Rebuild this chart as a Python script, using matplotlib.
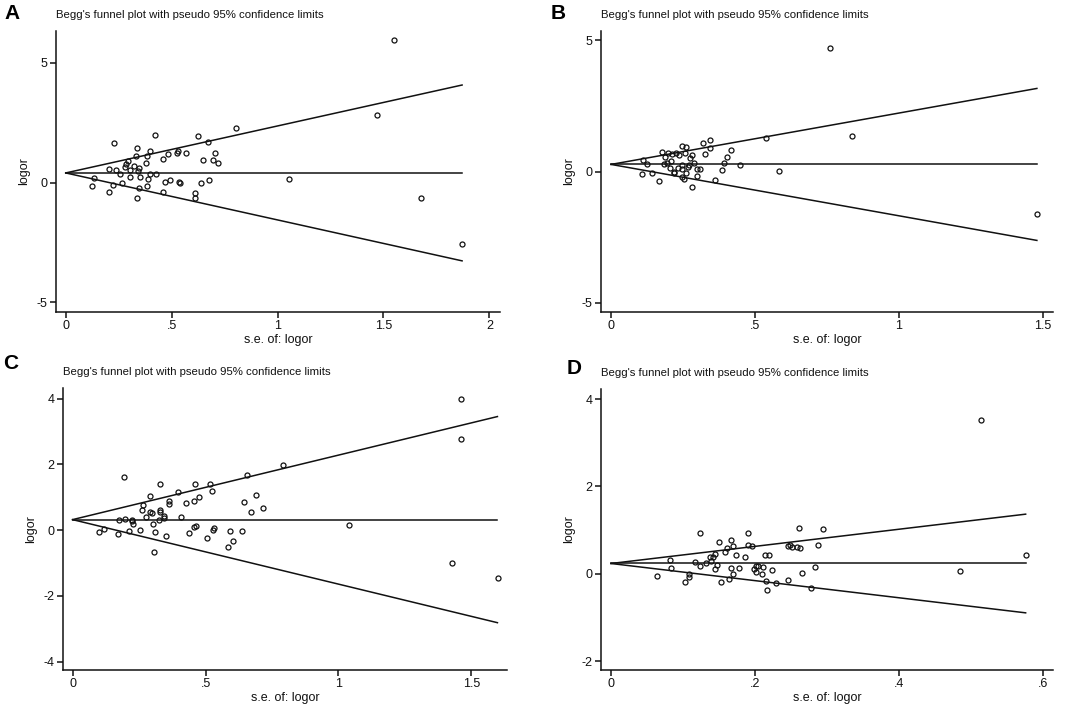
import matplotlib
matplotlib.use("Agg")
import matplotlib.pyplot as plt

plt.rcParams['font.family'] = ['Liberation Sans', 'DejaVu Sans']
plt.rcParams['axes.unicode_minus'] = False

# ---- panel A ----
a_se = [1.548, 1.467, 0.804, 1.676, 1.871, 1.053, 0.228, 0.423, 0.623, 0.337,
        0.670, 0.398, 0.334, 0.384, 0.483, 0.524, 0.529, 0.568, 0.703, 0.459,
        0.650, 0.697, 0.719, 0.294, 0.286, 0.378, 0.321, 0.279, 0.348, 0.343,
        0.203, 0.238, 0.301, 0.255, 0.398, 0.426, 0.351, 0.302, 0.389, 0.135,
        0.470, 0.493, 0.533, 0.538, 0.640, 0.675, 0.267, 0.222, 0.126, 0.384,
        0.346, 0.458, 0.203, 0.609, 0.612, 0.337]
a_lor = [5.93, 2.83, 2.29, -0.625, -2.57, 0.15, 1.64, 1.97, 1.93, 1.43,
         1.67, 1.33, 1.125, 1.125, 1.19, 1.24, 1.33, 1.25, 1.25, 1.0,
         0.94, 0.94, 0.83, 0.89, 0.79, 0.81, 0.67, 0.64, 0.625, 0.5,
         0.56, 0.54, 0.51, 0.35, 0.375, 0.375, 0.25, 0.21, 0.14, 0.19,
         0.04, 0.125, 0.03, -0.03, 0.0, 0.125, -0.04, -0.11, -0.125, -0.14,
         -0.21, -0.40, -0.375, -0.42, -0.64, -0.625]

# ---- panel B ----
b_se = [0.762, 0.837, 1.480, 0.538, 0.584, 0.449, 0.416, 0.404, 0.392, 0.385,
        0.360, 0.343, 0.345, 0.318, 0.327, 0.309, 0.300, 0.298, 0.289, 0.281,
        0.280, 0.275, 0.271, 0.266, 0.260, 0.258, 0.252, 0.245, 0.245, 0.246,
        0.246, 0.260, 0.235, 0.234, 0.224, 0.220, 0.217, 0.212, 0.208, 0.205,
        0.198, 0.194, 0.186, 0.184, 0.178, 0.125, 0.111, 0.109, 0.141, 0.167]
b_lor = [4.73, 1.35, -1.62, 1.27, 0.03, 0.24, 0.81, 0.55, 0.33, 0.05,
         -0.34, 1.21, 0.88, 1.09, 0.65, 0.09, 0.09, -0.18, 0.34, -0.60,
         0.62, 0.53, 0.23, 0.16, 0.94, 0.71, -0.27, 0.99, 0.25, 0.08,
         -0.22, -0.06, 0.62, 0.14, 0.72, -0.03, -0.05, 0.65, 0.39, 0.15,
         0.69, 0.33, 0.56, 0.29, 0.75, 0.29, 0.44, -0.08, -0.05, -0.36]

# ---- panel C ----
c_se = [1.460, 1.462, 1.428, 1.599, 1.040, 0.793, 0.655, 0.690, 0.646, 0.671,
        0.716, 0.637, 0.591, 0.603, 0.584, 0.533, 0.529, 0.507, 0.517, 0.526,
        0.462, 0.477, 0.457, 0.426, 0.395, 0.409, 0.439, 0.465, 0.458, 0.364,
        0.364, 0.329, 0.329, 0.329, 0.344, 0.344, 0.325, 0.352, 0.309, 0.305,
        0.303, 0.300, 0.291, 0.291, 0.278, 0.266, 0.262, 0.255, 0.228, 0.225,
        0.222, 0.213, 0.197, 0.192, 0.174, 0.169, 0.119, 0.098]
c_lor = [4.0, 2.77, -0.99, -1.45, 0.17, 1.99, 1.69, 1.06, 0.85, 0.55,
         0.67, -0.03, -0.02, -0.33, -0.52, 0.07, 0.0, -0.23, 1.40, 1.19,
         1.40, 1.02, 0.89, 0.83, 1.16, 0.40, -0.10, 0.14, 0.10, 0.90,
         0.79, 1.40, 0.62, 0.56, 0.43, 0.36, 0.31, -0.19, -0.05, -0.67,
         0.18, 0.52, 0.56, 1.05, 0.40, 0.75, 0.60, 0.0, 0.20, 0.32,
         0.28, -0.04, 0.35, 1.62, 0.32, -0.13, 0.04, -0.05]

# ---- panel D ----
d_se = [0.5135, 0.577, 0.485, 0.295, 0.261, 0.288, 0.284, 0.278, 0.266, 0.262,
        0.259, 0.252, 0.246, 0.249, 0.246, 0.229, 0.224, 0.220, 0.214, 0.217,
        0.216, 0.211, 0.210, 0.204, 0.201, 0.201, 0.199, 0.196, 0.191, 0.191,
        0.186, 0.178, 0.174, 0.170, 0.170, 0.167, 0.166, 0.164, 0.161, 0.158,
        0.153, 0.150, 0.147, 0.144, 0.144, 0.141, 0.139, 0.138, 0.132, 0.124,
        0.123, 0.117, 0.109, 0.108, 0.103, 0.083, 0.082, 0.064]
d_lor = [3.51, 0.435, 0.061, 1.03, 1.046, 0.649, 0.168, -0.32, 0.03, 0.595,
         0.61, 0.618, 0.634, 0.656, -0.13, -0.20, 0.084, 0.435, 0.435, -0.38,
         -0.168, 0.16, -0.008, 0.19, 0.176, 0.046, 0.115, 0.634, 0.93, 0.656,
         0.38, 0.145, 0.435, 0.634, 0.0, 0.77, 0.145, -0.107, 0.595, 0.51,
         -0.19, 0.725, 0.198, 0.122, 0.458, 0.38, 0.298, 0.38, 0.244, 0.19,
         0.93, 0.28, -0.008, -0.07, -0.19, 0.137, 0.32, -0.053]

# pooled estimate and max se for the pseudo 95% limits
pooled = [0.40, 0.27, 0.32, 0.237]
se_max = [1.871, 1.479, 1.598, 0.576]

letters = ['A', 'B', 'C', 'D']
xticks = [[0, 0.5, 1, 1.5, 2], [0, 0.5, 1, 1.5], [0, 0.5, 1, 1.5], [0, 0.2, 0.4, 0.6]]
xticklabels = [['0', '.5', '1', '1.5', '2'], ['0', '.5', '1', '1.5'],
               ['0', '.5', '1', '1.5'], ['0', '.2', '.4', '.6']]
yticks = [[-5, 0, 5], [-5, 0, 5], [-4, -2, 0, 2, 4], [-2, 0, 2, 4]]
xlims = [(-0.046, 2.05), (-0.035, 1.535), (-0.036, 1.634), (-0.0139, 0.614)]
ylims = [(-5.40, 6.32), (-5.36, 5.36), (-4.25, 4.32), (-2.2, 4.23)]

ses = [a_se, b_se, c_se, d_se]
lors = [a_lor, b_lor, c_lor, d_lor]

# axes rectangles in pixels (left, top, right, bottom)
boxes = [(56, 31, 500, 312), (601, 31, 1053, 312),
         (63, 388, 507, 670), (601, 389, 1053, 670)]
letter_pos = [(4, 4), (551, 4), (3, 354), (567, 359)]

ink = '#111111'
W, H = 1065, 710
fig = plt.figure(figsize=(W / 100, H / 100), dpi=100)

for i in range(4):
    l, t, r, b = boxes[i]
    ax = fig.add_axes([l / W, 1 - b / H, (r - l) / W, (b - t) / H])
    th = pooled[i]
    m = se_max[i]
    ax.plot([0, m], [th, th], color=ink, lw=1.1)
    ax.plot([0, m], [th, th + 1.96 * m], color=ink, lw=1.1)
    ax.plot([0, m], [th, th - 1.96 * m], color=ink, lw=1.1)
    ax.plot(ses[i], lors[i], 'o', ls='none', mfc='none', mec=ink,
            ms=3.6, mew=0.9)
    ax.set_xlim(xlims[i])
    ax.set_ylim(ylims[i])
    ax.set_xticks(xticks[i])
    ax.set_xticklabels(xticklabels[i])
    ax.set_yticks(yticks[i])
    ax.spines['top'].set_visible(False)
    ax.spines['right'].set_visible(False)
    ax.spines['left'].set_linewidth(1.1)
    ax.spines['bottom'].set_linewidth(1.1)
    ax.spines['left'].set_color(ink)
    ax.spines['bottom'].set_color(ink)
    ax.tick_params(direction='out', length=4, width=1.1, labelsize=9, pad=2,
                   color=ink, labelcolor=ink)
    ax.set_xlabel('s.e. of: logor', fontsize=9, labelpad=1, color=ink)
    ax.set_ylabel('logor', fontsize=9, labelpad=5, color=ink)
    fig.text(l / W, 1 - (t - 16) / H, "Begg's funnel plot with pseudo 95% confidence limits",
             fontsize=8.2, ha='left', va='center', color=ink)
    fig.text(letter_pos[i][0] / W, 1 - letter_pos[i][1] / H, letters[i],
             fontsize=15, fontweight='bold', ha='left', va='top')

fig.savefig('out.png', dpi=100)
